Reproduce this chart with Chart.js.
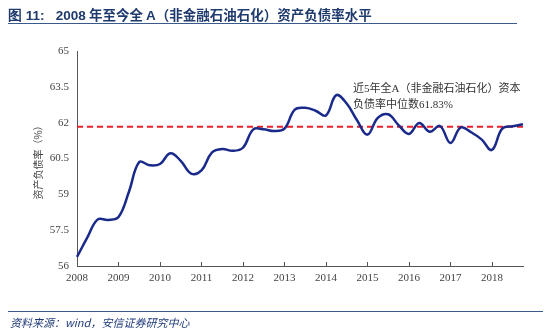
<!DOCTYPE html>
<html>
<head>
<meta charset="utf-8">
<script src="https://cdn.jsdelivr.net/npm/chart.js@4"></script>
<style>
  body { margin: 0; background: #fff; }
  #wrap { position: relative; width: 550px; height: 330px; }
  #title { position: absolute; left: 8px; top: 4px; font: bold 13.5px "Noto Sans CJK SC", sans-serif; color: #1f3a6e; white-space: nowrap; }
  #title .num { font-family: Arial, "Liberation Sans", sans-serif; }
  #topline { position: absolute; left: 8px; top: 23px; width: 509px; height: 0; border-top: 1.5px solid #3a5a8c; }
  #botline { position: absolute; left: 8px; top: 311px; width: 535px; height: 0; border-top: 1.5px solid #3a5a8c; }
  #source { position: absolute; left: 10px; top: 314px; font: italic 11px "Noto Sans CJK SC", sans-serif; color: #1f3a7a; white-space: nowrap; }
  canvas { position: absolute; left: 0; top: 0; }
</style>
</head>
<body>
<div id="wrap">
  <canvas id="myChart" width="550" height="330"></canvas>
  <div id="title"><span class="num">图 11:&nbsp;&nbsp;&nbsp;2008</span> 年至今全 <span class="num">A</span>（非金融石油石化）资产负债率水平</div>
  <div id="topline"></div>
  <div id="botline"></div>
  <div id="source">资料来源：wind，安信证券研究中心</div>
</div>
<script>
// quarterly, 2008Q1 .. 2018Q4
var quarters = [];
for (var y = 2008; y <= 2018; y++)
  for (var q = 1; q <= 4; q++)
    quarters.push(y + 'Q' + q);

var debtRatio = [
  56.38, 57.2, 57.95, 57.93,
  58.05, 59.1, 60.35, 60.22,
  60.27, 60.72, 60.4, 59.87,
  60.0, 60.75, 60.9, 60.82,
  60.95, 61.72, 61.72, 61.65,
  61.75, 62.55, 62.62, 62.5,
  62.3, 63.15, 62.8, 62.1,
  61.5, 62.2, 62.35, 61.9,
  61.53, 61.99, 61.62, 61.86,
  61.15, 61.8, 61.6, 61.3,
  60.86, 61.75, 61.85, 61.93
];

var median = 61.83;
var medianLine = quarters.map(function () { return median; });

var yTicks = [56, 57.5, 59, 60.5, 62, 63.5, 65];
var axisTitle = '资产负债率（%）';
var noteLines = ['近5年全A（非金融石油石化）资本', '负债率中位数61.83%'];

var tickFont = { family: '"Liberation Serif", "Times New Roman", serif', size: 11 };

var extras = {
  id: 'extras',
  afterDraw: function (chart) {
    var c = chart.ctx;
    var xs = chart.scales.x;
    var area = chart.chartArea;
    c.save();
    // inward tick marks on x axis
    c.strokeStyle = '#555';
    c.lineWidth = 1;
    for (var i = 0; i < quarters.length; i += 4) {
      var px = Math.round(xs.getPixelForValue(i)) + 0.5;
      c.beginPath();
      c.moveTo(px, area.bottom);
      c.lineTo(px, area.bottom - 4);
      c.stroke();
    }
    // y axis title
    c.fillStyle = '#444';
    c.font = '10px "Noto Sans CJK SC", sans-serif';
    c.translate(38, 160);
    c.rotate(-Math.PI / 2);
    c.textAlign = 'center';
    c.textBaseline = 'middle';
    c.fillText(axisTitle, 0, 0);
    c.restore();

    // note text
    c.save();
    c.fillStyle = '#333';
    c.font = '11px "Liberation Serif", "Noto Sans CJK SC", serif';
    c.textBaseline = 'middle';
    c.fillText(noteLines[0], 353, 89);
    c.fillText(noteLines[1], 353, 105);
    c.restore();
  }
};

var ctx = document.getElementById('myChart');
var myChart = new Chart(ctx, {
  type: 'line',
  data: {
    labels: quarters,
    datasets: [
      {
        data: debtRatio,
        borderColor: '#1a2a8a',
        borderWidth: 2.5,
        pointRadius: 0,
        tension: 0.4
      },
      {
        data: medianLine,
        borderColor: '#e8202a',
        borderWidth: 1.8,
        borderDash: [6, 4],
        pointRadius: 0
      }
    ]
  },
  options: {
    responsive: false,
    animation: false,
    layout: { padding: { left: 0, right: 27, top: 51, bottom: 40 } },
    plugins: { legend: { display: false }, tooltip: { enabled: false } },
    scales: {
      x: {
        offset: false,
        grid: { display: false, drawTicks: false },
        border: { color: '#555', width: 1 },
        ticks: {
          autoSkip: false,
          maxRotation: 0,
          padding: 6,
          color: '#444',
          font: tickFont,
          callback: function (v, i) { return i % 4 === 0 ? quarters[i].slice(0, 4) : null; }
        },
        afterFit: function (s) { s.height = 24; }
      },
      y: {
        min: 56,
        max: 65,
        afterBuildTicks: function (s) { s.ticks = yTicks.map(function (v) { return { value: v }; }); },
        grid: { display: false, drawTicks: true, tickLength: 4, color: '#555' },
        border: { color: '#555', width: 1 },
        ticks: { padding: 4, color: '#444', font: tickFont },
        afterFit: function (s) { s.width = 77; }
      }
    }
  },
  plugins: [extras]
});
</script>
</body>
</html>
